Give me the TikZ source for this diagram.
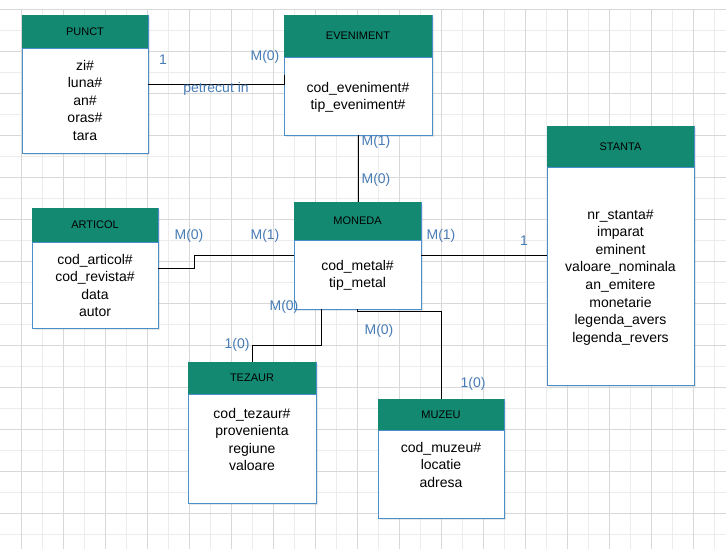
\documentclass[tikz,border=0pt]{standalone}
\usepackage{fontspec}
\setmainfont{Liberation Sans}
\usepackage{tikz}
\usetikzlibrary{calc,positioning,shadows}

\definecolor{headteal}{RGB}{20,137,113}
\definecolor{boxblue}{RGB}{74,142,204}
\definecolor{cardblue}{RGB}{72,124,180}
\definecolor{gridmajor}{RGB}{216,216,216}
\definecolor{gridminor}{RGB}{236,236,236}

\begin{document}
\begin{tikzpicture}[x=1pt,y=-1pt]

  % Styles
  \tikzstyle{every node}=[inner sep=0pt,outer sep=0pt]
  \tikzstyle{entity}=[draw=boxblue,fill=white,line width=1pt,anchor=north west,
    drop shadow={shadow xshift=2pt,shadow yshift=-2pt,opacity=0.18}]
  \tikzstyle{head}=[fill=headteal,anchor=north west,font=\fontsize{11}{13}\selectfont]
  \tikzstyle{attr}=[font=\fontsize{14}{17}\selectfont,text height=10pt,text depth=0pt]
  \tikzstyle{card}=[text=cardblue,font=\fontsize{14}{17}\selectfont]
  \tikzstyle{link}=[line width=1pt]

  % \entity{<id>}{<corner>}{<width>}{<height>}{<head height>}{<title>}
  \newcommand{\entity}[6]{%
    \node[entity,minimum width=#3,minimum height=#4] (#1) at (#2) {};
    \node[head,minimum width=#3,minimum height=#5] (#1-head) at (#1.north west) {#6};
    \draw[boxblue] (#1-head.south west) -- (#1-head.south east);
  }

  % \fields{<id>}{<first offset>}{<list>}
  \newcommand{\fields}[3]{%
    \foreach \field [count=\i from 0] in {#3}
      \node[attr] (#1-field-\i) at ($(#1.north)+(0,#2+17.6*\i)$) {\field};
  }

  % ===========================================================================

  % Background and grid
  \fill[white] (0,0) rectangle (726,549);
  \useasboundingbox (0,0) rectangle (726,549);
  \foreach \gx in {42,84,...,714} \draw[gridminor] (\gx,9) -- (\gx,549);
  \foreach \gy in {30,72,...,534} \draw[gridminor] (0,\gy) -- (726,\gy);
  \foreach \gx in {21,63,...,693} \draw[gridmajor] (\gx,9) -- (\gx,549);
  \foreach \gy in {9,51,...,513} \draw[gridmajor] (0,\gy) -- (726,\gy);

  % Draw entities
  \entity{punct}{22,15}{126pt}{138pt}{33pt}{PUNCT}
  \fields{punct}{50}{zi\#,luna\#,an\#,oras\#,tara}

  \entity{even}{284,15}{148pt}{120pt}{42pt}{EVENIMENT}
  \fields{even}{72}{cod\_eveniment\#,tip\_eveniment\#}

  \entity{moneda}{294,202}{127pt}{107pt}{38pt}{MONEDA}
  \fields{moneda}{63}{cod\_metal\#,tip\_metal}

  \entity{articol}{32,208}{126pt}{120pt}{34pt}{ARTICOL}
  \fields{articol}{51}{cod\_articol\#,cod\_revista\#,data,autor}

  \entity{stanta}{547,126}{147pt}{259pt}{41pt}{STANTA}
  \fields{stanta}{88}{nr\_stanta\#,imparat,eminent,valoare\_nominala,an\_emitere,monetarie,legenda\_avers,legenda\_revers}

  \entity{tezaur}{188,362}{128pt}{141pt}{32pt}{TEZAUR}
  \fields{tezaur}{51}{cod\_tezaur\#,provenienta,regiune,valoare}

  \entity{muzeu}{378,399}{126pt}{119pt}{31pt}{MUZEU}
  \fields{muzeu}{48}{cod\_muzeu\#,locatie,adresa}

  % Draw relations
  \draw[link] (punct.east) -- (punct.east -| even.west) -- (even.west);
  \draw[link] (even.south) -- (even.south |- moneda.north);
  \draw[link] (articol.east) -- ++(36,0) |- (moneda.west);
  \draw[link] (moneda.east) -- (stanta.west);
  \draw[link] ($(moneda.south)+(-36,0)$) -- ++(0,36) -| (tezaur.north);
  \draw[link] (moneda.south) -- ++(0,2) -| (muzeu.north);

  % Cardinalities
  \node[card] (c-punct)    at (163,60)  {1};
  \node[card] (c-even-l)   at (265,57)  {M(0)};
  \node[card] (rel-name)   at (216,89)  {petrecut in};
  \node[card] (c-even-b)   at (376,142) {M(1)};
  \node[card] (c-moneda-t) at (376,180) {M(0)};
  \node[card] (c-articol)  at (189,236) {M(0)};
  \node[card] (c-moneda-l) at (265,236) {M(1)};
  \node[card] (c-moneda-r) at (441,236) {M(1)};
  \node[card] (c-stanta)   at (524,241) {1};
  \node[card] (c-moneda-b) at (284,307) {M(0)};
  \node[card] (c-tezaur)   at (237,345) {1(0)};
  \node[card] (c-moneda-m) at (379,331) {M(0)};
  \node[card] (c-muzeu)    at (473,384) {1(0)};

\end{tikzpicture}
\end{document}
